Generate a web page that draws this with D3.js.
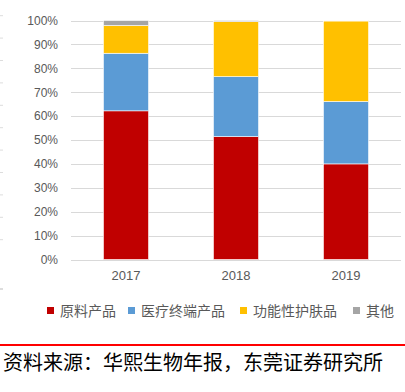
<!DOCTYPE html>
<html>
<head>
<meta charset="utf-8">
<script src="https://d3js.org/d3.v7.min.js"></script>
<style>
  body { margin: 0; background: #fff; }
  svg { display: block; }
</style>
</head>
<body>
<div id="chart"></div>
<script>
  const years = ["2017", "2018", "2019"];
  const seriesNames = ["原料产品", "医疗终端产品", "功能性护肤品", "其他"];
  const rawMaterial = [62.2, 51.4, 40.0];
  const medical = [24.1, 25.1, 26.1];
  const skincare = [11.6, 23.0, 33.7];
  const other = [2.1, 0.5, 0.2];
  const yTicks = [0, 10, 20, 30, 40, 50, 60, 70, 80, 90, 100];
  const colors = ["#C00000", "#5B9BD5", "#FFC000", "#A5A5A5"];

  const W = 405, H = 392;
  const svg = d3.select("#chart").append("svg")
    .attr("width", W).attr("height", H);

  // faint marks on the left page edge
  svg.append("g").selectAll("line")
    .data(d3.range(11).map(i => 15.7 + i * 22.4).concat([289]))
    .join("line")
    .attr("x1", 0).attr("x2", 3)
    .attr("y1", d => d).attr("y2", d => d)
    .attr("stroke", (d, i) => i == 11 ? "#bbb" : "#ddd");

  const x = d3.scaleBand().domain(years).range([71, 401]).paddingInner(0.59).paddingOuter(0.295);
  const y = d3.scaleLinear().domain([0, 100]).range([259.5, 20.5]);

  svg.append("g")
    .selectAll("line")
    .data(yTicks)
    .join("line")
    .attr("x1", 71).attr("x2", 401)
    .attr("y1", d => Math.round(y(d)) + 0.5).attr("y2", d => Math.round(y(d)) + 0.5)
    .attr("stroke", "#D9D9D9");

  const yAxis = svg.append("g")
    .attr("transform", "translate(62,0)")
    .call(d3.axisLeft(y).tickValues(yTicks).tickFormat(d => d + "%").tickSize(0));
  yAxis.select(".domain").remove();
  yAxis.selectAll("text")
    .attr("x", -4)
    .style("font-family", "Liberation Sans, Arial, sans-serif")
    .style("font-size", "12px")
    .attr("fill", "#595959");

  const xAxis = svg.append("g")
    .attr("transform", "translate(0,259.5)")
    .call(d3.axisBottom(x).tickSize(0));
  xAxis.select(".domain").remove();
  xAxis.selectAll("text")
    .attr("dy", "1.35em")
    .style("font-family", "Liberation Sans, Arial, sans-serif")
    .style("font-size", "13px")
    .attr("fill", "#595959");

  const table = years.map((yr, i) => ({
    year: yr,
    [seriesNames[0]]: rawMaterial[i],
    [seriesNames[1]]: medical[i],
    [seriesNames[2]]: skincare[i],
    [seriesNames[3]]: other[i]
  }));
  const stacked = d3.stack().keys(seriesNames)(table);

  svg.append("g")
    .selectAll("g")
    .data(stacked)
    .join("g")
    .attr("fill", (d, i) => colors[i])
    .selectAll("rect")
    .data(d => d)
    .join("rect")
    .attr("x", d => x(d.data.year))
    .attr("width", x.bandwidth())
    .attr("y", d => y(d[1]))
    .attr("height", d => y(d[0]) - y(d[1]))
    .attr("stroke", "#fff")
    .attr("stroke-width", 0.6);

  // legend
  const legendX = [47, 128, 240, 353];
  const lg = svg.append("g").selectAll("g")
    .data(seriesNames)
    .join("g")
    .attr("transform", (d, i) => `translate(${legendX[i]},307)`);
  lg.append("rect")
    .attr("width", 7).attr("height", 7)
    .attr("fill", (d, i) => colors[i]);
  lg.append("text")
    .attr("x", 13).attr("y", 3.5)
    .attr("dy", "0.36em")
    .style("font-family", "Noto Sans CJK SC, sans-serif")
    .style("font-size", "14px")
    .attr("fill", "#595959")
    .text(d => d);

  svg.append("rect")
    .attr("x", 0).attr("y", 344).attr("width", W).attr("height", 2)
    .attr("fill", "#FF0000");

  svg.append("text")
    .attr("x", 3).attr("y", 370)
    .style("font-family", "Noto Sans CJK SC, sans-serif")
    .style("font-size", "20px")
    .attr("fill", "#000")
    .text("资料来源：华熙生物年报，东莞证券研究所");
</script>
</body>
</html>
